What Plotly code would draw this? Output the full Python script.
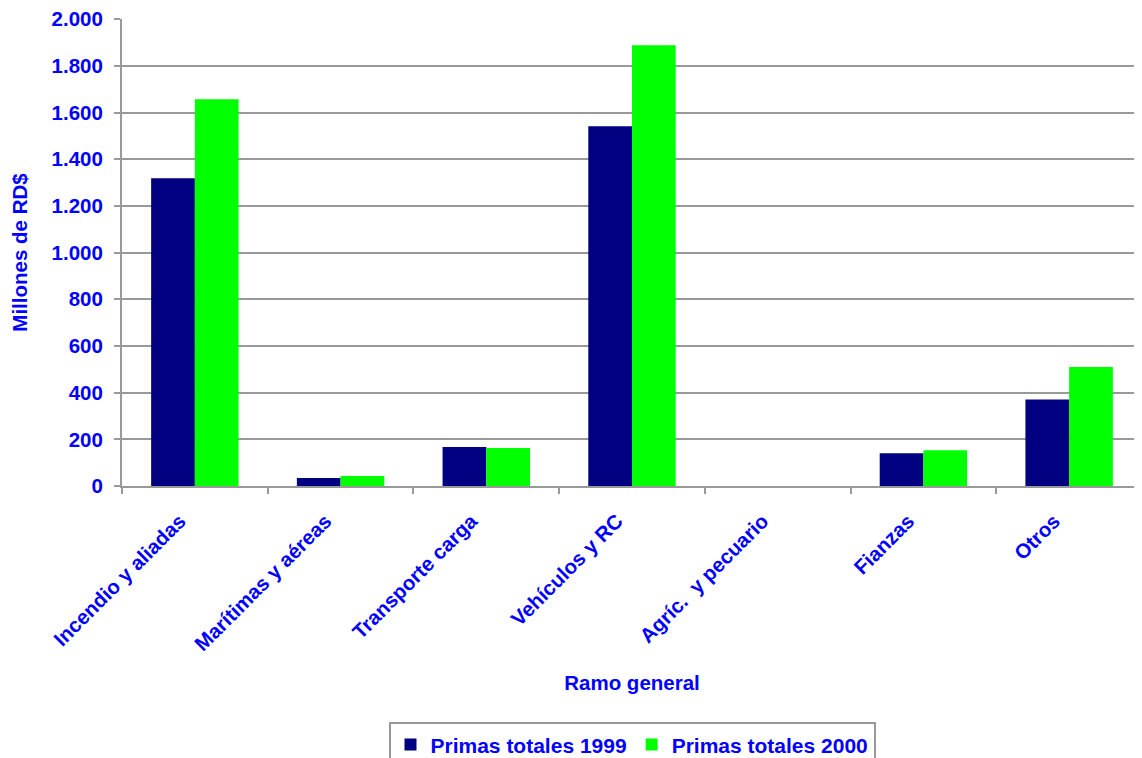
import plotly.graph_objects as go

categories = ["Incendio y aliadas", "Marítimas y aéreas", "Transporte carga",
              "Vehículos y RC", "Agríc.  y pecuario", "Fianzas", "Otros"]
primas_1999 = [1319, 34, 167, 1541, 0, 140, 371]
primas_2000 = [1657, 43, 163, 1889, 0, 153, 510]
y_ticks = [0, 200, 400, 600, 800, 1000, 1200, 1400, 1600, 1800, 2000]

BLUE = "#0000FF"
GRID = "#999999"
FONT = "Liberation Sans, Arial, sans-serif"
FS = 20.5


def f(size=FS):
    return dict(family=FONT, size=size, color=BLUE, weight="bold")


fig = go.Figure()
fig.add_trace(go.Bar(x=categories, y=primas_1999, name="Primas totales 1999",
                     marker=dict(color="#000080", line=dict(width=0))))
fig.add_trace(go.Bar(x=categories, y=primas_2000, name="Primas totales 2000",
                     marker=dict(color="#00FF00", line=dict(width=0))))

# the page body adds an 8px offset, so the figure is 8px smaller on each side
fig.update_layout(
    width=1134, height=750,
    margin=dict(l=114, r=0, t=11, b=272, autoexpand=False),
    paper_bgcolor="white", plot_bgcolor="white",
    barmode="group", bargap=0.4, bargroupgap=0,
    separators=",.",
    font=f(),
    showlegend=True,
    legend=dict(orientation="h", x=0.5, xanchor="center", y=-0.506, yanchor="top",
                bordercolor=GRID, borderwidth=2, font=f(21),
                itemwidth=30, tracegroupgap=0),
)
fig.update_xaxes(
    type="category", tickangle=-45, tickson="boundaries", automargin=False,
    ticks="outside", ticklen=6, tickwidth=2, tickcolor=GRID,
    ticklabelstandoff=13, ticklabelshift=-15,
    showline=True, linecolor=GRID, linewidth=2,
    showgrid=False,
    tickfont=f(),
    title=dict(text="Ramo general", font=f(), standoff=21),
)
fig.update_yaxes(
    range=[0, 2001], tickvals=y_ticks, tickformat=",d",
    automargin=False, ticklabeloverflow="allow",
    ticks="outside", ticklen=6, tickwidth=2, tickcolor=GRID, ticklabelstandoff=7,
    showline=True, linecolor=GRID, linewidth=2,
    showgrid=True, gridcolor=GRID, gridwidth=2,
    zeroline=False,
    tickfont=f(),
    title=dict(text="Millones de RD$", font=f(), standoff=23),
)

fig.write_html("out.html")
